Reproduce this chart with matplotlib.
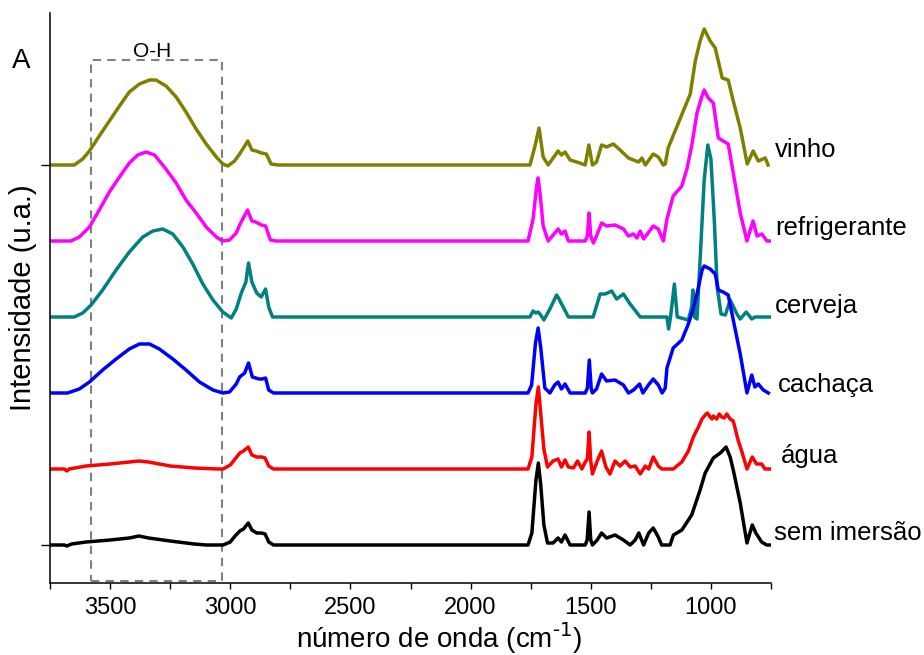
import numpy as np
from matplotlib import pyplot as plt
from matplotlib.patches import Rectangle
from matplotlib.ticker import MultipleLocator

plt.rcParams['font.family'] = ['Liberation Sans', 'DejaVu Sans']
plt.rcParams['mathtext.default'] = 'regular'

# (wavenumber, intensity), intensity in arbitrary units
sem_imersao = [(3750, 0), (3690, 0), (3680, -1), (3660, 1), (3600, 3), (3500, 5), (3420, 7), (3380, 9),
               (3340, 7), (3250, 4), (3150, 1), (3100, 0), (3030, 0), (3000, 3), (2980, 9), (2960, 14),
               (2945, 16), (2925, 22), (2910, 15), (2890, 12), (2870, 12), (2855, 11), (2840, 3), (2820, 0),
               (1761, 0), (1745, 12), (1728, 65), (1718, 82), (1708, 60), (1695, 20), (1680, 2), (1657, 2),
               (1636, 7), (1622, 3), (1607, 10), (1586, 0), (1523, 0), (1515, 5), (1507, 33), (1500, 5),
               (1493, 0), (1473, 5), (1455, 12), (1434, 7), (1399, 10), (1364, 5), (1336, 0), (1315, 5),
               (1300, 12), (1280, 0), (1259, 12), (1240, 17), (1219, 8), (1205, 0), (1170, 0), (1156, 10),
               (1121, 15), (1080, 30), (1045, 55), (1024, 72), (990, 87), (961, 92), (937, 98), (920, 88),
               (907, 75), (878, 42), (850, 2), (828, 20), (813, 12), (789, 3), (768, 0), (755, 0)]

agua = [(3750, 0), (3690, 0), (3680, -2), (3670, 0), (3600, 3), (3500, 5), (3420, 7), (3380, 8),
        (3340, 7), (3250, 3), (3150, 1), (3050, 0), (3030, 0), (3000, 4), (2980, 10), (2960, 16),
        (2945, 18), (2925, 22), (2910, 14), (2890, 12), (2870, 12), (2855, 11), (2840, 3), (2820, 0),
        (1761, 0), (1745, 12), (1728, 65), (1718, 82), (1708, 55), (1695, 20), (1680, 2), (1657, 8),
        (1636, 10), (1622, 2), (1607, 9), (1593, 2), (1572, 1), (1555, 8), (1537, 0), (1523, 7),
        (1514, 10), (1507, 37), (1500, 8), (1493, -5), (1473, 8), (1455, 18), (1437, 2), (1420, -5),
        (1399, 8), (1378, 3), (1357, 8), (1336, 2), (1315, 3), (1294, -5), (1273, 3), (1259, 0),
        (1240, 12), (1219, 3), (1205, 0), (1156, 0), (1142, 3), (1121, 7), (1094, 18), (1073, 32),
        (1052, 42), (1037, 50), (1024, 54), (1015, 56), (1003, 52), (995, 50), (990, 53), (976, 50),
        (965, 55), (955, 52), (945, 51), (934, 55), (920, 50), (907, 48), (886, 28), (872, 18),
        (850, 0), (828, 12), (810, 5), (789, 5), (775, 0), (755, 0)]

cachaca = [(3750, 0), (3677, 0), (3628, 4), (3586, 11), (3531, 23), (3475, 34), (3420, 44), (3378, 49),
           (3336, 49), (3295, 44), (3239, 34), (3184, 23), (3128, 11), (3072, 3), (3031, 0), (3003, 1),
           (2975, 9), (2961, 16), (2940, 20), (2924, 30), (2908, 16), (2880, 14), (2867, 14), (2853, 15),
           (2840, 3), (2820, 0),
           (1761, 0), (1746, 8), (1730, 50), (1719, 65), (1708, 45), (1691, 5), (1670, 0), (1650, 8),
           (1636, 11), (1622, 4), (1607, 9), (1586, 0), (1523, 0), (1514, 5), (1506, 33), (1498, 4),
           (1493, 0), (1476, 4), (1455, 19), (1434, 12), (1399, 13), (1364, 8), (1343, 0), (1322, 3),
           (1297, 9), (1283, 0), (1260, 8), (1240, 14), (1219, 8), (1203, 0), (1190, 5), (1183, 25),
           (1157, 45), (1121, 53), (1094, 69), (1075, 83), (1058, 99), (1037, 123), (1028, 127),
           (1003, 124), (982, 119), (969, 103), (949, 101), (928, 98), (907, 73), (878, 39), (850, 0),
           (830, 18), (817, 6), (803, 9), (782, 3), (761, 0)]

cerveja = [(3750, 0), (3649, 0), (3614, 4), (3579, 12), (3531, 27), (3475, 47), (3420, 65), (3364, 80),
           (3322, 86), (3281, 88), (3239, 83), (3197, 70), (3156, 53), (3114, 33), (3072, 17), (3031, 5),
           (2996, -1), (2975, 8), (2954, 24), (2935, 35), (2924, 54), (2910, 35), (2890, 24), (2871, 20),
           (2853, 28), (2840, 10), (2824, 0),
           (1753, 0), (1740, 6), (1728, 4), (1719, 5), (1708, 2), (1695, -3), (1670, 8), (1642, 22),
           (1632, 18), (1593, 0), (1490, 0), (1461, 23), (1440, 23), (1413, 26), (1392, 18), (1364, 23),
           (1336, 13), (1294, 0), (1183, 0), (1176, -12), (1168, 0), (1152, 33), (1140, 0), (1094, -3),
           (1080, 10), (1075, 27), (1068, 0), (1058, -2), (1045, 57), (1028, 137), (1013, 172),
           (1000, 158), (986, 97), (974, 30), (958, 3), (940, 2), (920, 17), (892, 3), (878, -2),
           (853, 5), (830, -2), (817, 0), (755, 0)]

refrigerante = [(3750, 0), (3663, 0), (3628, 4), (3586, 14), (3545, 31), (3503, 49), (3461, 64), (3420, 78),
                (3385, 86), (3350, 89), (3315, 86), (3274, 74), (3225, 58), (3184, 41), (3142, 28),
                (3100, 14), (3058, 4), (3031, 0), (3003, 1), (2975, 8), (2961, 16), (2928, 31), (2910, 20),
                (2894, 19), (2870, 16), (2853, 15), (2833, 1), (2810, 0),
                (1761, 0), (1740, 22), (1725, 55), (1719, 63), (1710, 45), (1698, 15), (1677, 0),
                (1636, 12), (1622, 7), (1607, 10), (1593, 0), (1523, 0), (1514, 5), (1507, 28), (1500, 5),
                (1489, -2), (1476, 5), (1455, 18), (1434, 15), (1399, 16), (1364, 12), (1343, 5),
                (1322, 7), (1308, 3), (1294, 10), (1280, 2), (1240, 15), (1219, 12), (1198, 0),
                (1183, 22), (1157, 45), (1121, 55), (1100, 72), (1080, 95), (1058, 128), (1037, 145),
                (1028, 151), (1011, 143), (990, 138), (969, 103), (949, 100), (928, 97), (907, 68),
                (878, 28), (850, 0), (825, 20), (808, 5), (788, 7), (767, 0), (755, 0)]

vinho = [(3750, 0), (3649, 0), (3614, 6), (3586, 14), (3545, 29), (3503, 44), (3461, 59), (3420, 73),
         (3378, 81), (3336, 85), (3309, 85), (3267, 79), (3225, 68), (3184, 53), (3142, 36), (3100, 21),
         (3058, 8), (3031, 1), (3010, -1), (2982, 4), (2961, 11), (2927, 24), (2910, 15), (2892, 14),
         (2870, 12), (2850, 11), (2830, 1), (2800, 0),
         (1753, 0), (1733, 18), (1715, 37), (1698, 8), (1677, 0), (1636, 14), (1622, 10), (1607, 13),
         (1586, 5), (1558, 3), (1523, 0), (1508, 20), (1493, 0), (1476, 3), (1455, 20), (1434, 18),
         (1406, 21), (1378, 15), (1343, 7), (1322, 5), (1301, 3), (1287, 7), (1273, 0), (1240, 11),
         (1219, 8), (1198, 0), (1190, 1), (1178, 17), (1149, 34), (1115, 54), (1086, 71), (1065, 104),
         (1045, 124), (1028, 136), (1003, 124), (982, 117), (953, 87), (928, 85), (907, 64), (878, 37),
         (849, 1), (824, 14), (803, 4), (774, 7), (762, 0)]

names = ['vinho', 'refrigerante', 'cerveja', 'cachaça', 'água', 'sem imersão']
spectra = [vinho, refrigerante, cerveja, cachaca, agua, sem_imersao]
colors = ['#808000', '#FF00FF', '#008080', '#0000FF', '#FF0000', '#000000']
offsets = [380, 304, 228, 152, 76, 0]
# label anchor (wavenumber, height above baseline)
label_pos = [(733, 8), (733, 6), (733, 4), (721, 1), (708, 6), (737, 5)]

fig = plt.figure(figsize=(9.24, 6.55), dpi=100)
ax = fig.add_axes([50/924, 1-583/655, 721/924, 570/655])

for name, spec, c, off, (lx, ly) in zip(names, spectra, colors, offsets, label_pos):
    wn, y = np.array(spec, dtype=float).T
    ax.plot(wn, y + off, color=c, lw=2.5, solid_joinstyle='round')
    ax.text(lx, off + ly, name, fontsize=18.5, va='baseline', ha='left', clip_on=False)

# O-H region box
ax.add_patch(Rectangle((3580, -36), 3035-3580, 485+36, fill=False, ec='#808080',
                       lw=1.5, ls=(0, (4, 3)), clip_on=False))
ax.text(3323, 488, 'O-H', fontsize=15, ha='center', va='baseline')

ax.set_xlim(3750, 750)
ax.set_ylim(-38, 532)
ax.xaxis.set_major_locator(MultipleLocator(500))
ax.xaxis.set_minor_locator(MultipleLocator(250))
ax.set_yticks([0, 380])
ax.set_yticklabels([])
ax.tick_params(axis='x', which='both', direction='out', length=4, width=1, labelsize=17, pad=6)
ax.tick_params(axis='y', direction='out', length=6.5, width=1)
for s in ['top', 'right']:
    ax.spines[s].set_visible(False)
for s in ['left', 'bottom']:
    ax.spines[s].set_linewidth(1.1)

ax.set_xlabel(r'número de onda (cm$^{\text{-1}}$)', fontsize=20)
ax.xaxis.set_label_coords((439-50)/721, -38/570)
ax.set_ylabel('Intensidade (u.a.)', fontsize=21)
ax.yaxis.set_label_coords(-13/721, (583-298)/570)

fig.text(12/924, 1-68/655, 'A', fontsize=20, va='baseline')

plt.savefig('out.png', dpi=100)
